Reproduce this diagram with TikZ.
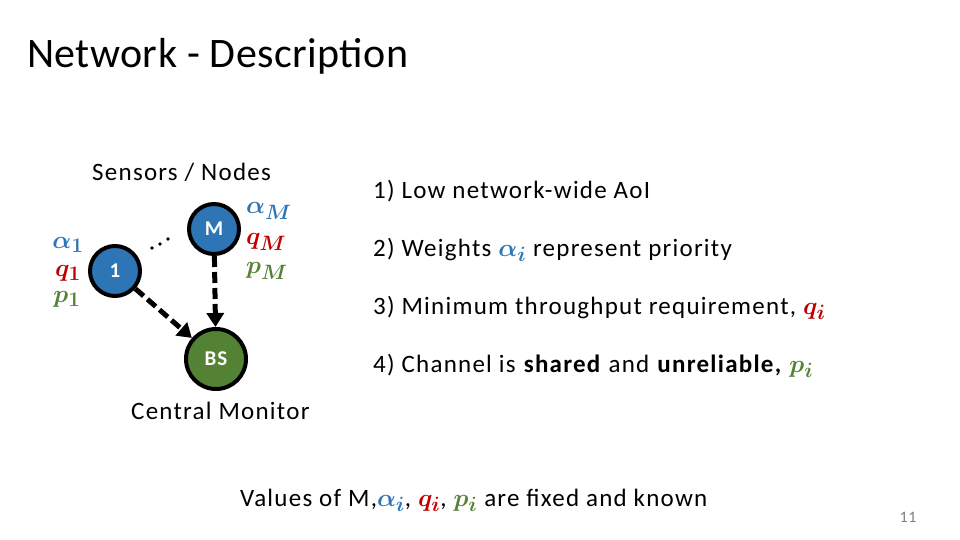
\documentclass[tikz,border=0pt]{standalone}
\usepackage{fontspec}
\usepackage{amsmath,bm}
\setmainfont{Carlito}[LetterSpace=5]
\newfontfamily\titlefont{Carlito}[LetterSpace=1]
\usetikzlibrary{arrows.meta}
\definecolor{oblue}{HTML}{2E75B6}
\definecolor{ored}{HTML}{C00000}
\definecolor{ogreen}{HTML}{548235}
\newcommand{\bigmath}[2]{\textcolor{#1}{\fontsize{29}{30}\selectfont$\bm{#2}$}}
\begin{document}
\begin{tikzpicture}[x=1pt,y=-1pt,
  sensor/.style={circle,draw=black,line width=4pt,fill=oblue,minimum size=50pt,inner sep=0pt,text=white,font=\fontsize{21}{24}\selectfont\bfseries},
  basest/.style={circle,draw=black,line width=4pt,fill=ogreen,minimum size=60pt,inner sep=0pt,text=white,font=\fontsize{21}{24}\selectfont\bfseries},
  link/.style={line width=5pt,dash pattern=on 11pt off 5pt,-{Triangle[length=14pt,width=17pt]}},
  txt/.style={anchor=base west,inner sep=0pt,font=\fontsize{25}{28}\selectfont},
  lbl/.style={inner sep=0pt,font=\fontsize{29}{30}\selectfont},
  dot/.style={circle,fill=black,inner sep=0pt,minimum size=3.6pt}]
\path[use as bounding box] (0,0) rectangle (960,540);
\node[anchor=base west,inner sep=0pt,font=\fontsize{42}{48}\titlefont] (title) at (27,68) {Network - Description};
\node[txt] (sens) at (92,181) {Sensors / Nodes};
\node[txt] (cm) at (131,419) {Central Monitor};
\node[sensor] (n1) at (115,271) {1};
\node[sensor] (nM) at (214,229) {M};
\node[basest] (bs) at (216,359) {BS};
\node[dot] (d1) at (152,248) {};
\node[dot] (d2) at (160,244) {};
\node[dot] (d3) at (168,239) {};
\draw[link] (n1) -- (bs);
\draw[link] (nM) -- (bs);
\node[lbl,text=oblue] (a1) at (68,245) {$\bm{\alpha_1}$};
\node[lbl,text=ored] (q1) at (68,273) {$\bm{q_1}$};
\node[lbl,text=ogreen] (p1) at (67,299) {$\bm{p_1}$};
\node[lbl,text=oblue,anchor=west] (aM) at (246,211) {$\bm{\alpha_M}$};
\node[lbl,text=ored,anchor=west] (qM) at (246,242) {$\bm{q_M}$};
\node[lbl,text=ogreen,anchor=west] (pM) at (246,271) {$\bm{p_M}$};
\node[txt] (l1) at (373,198) {1) Low network-wide AoI};
\node[txt] (l2) at (373,256) {2) Weights \bigmath{oblue}{\alpha_i} represent priority};
\node[txt] (l3) at (373,314) {3) Minimum throughput requirement, \bigmath{ored}{q_i}};
\node[txt] (l4) at (373,372) {4) Channel is \textbf{shared} and \textbf{unreliable,} \bigmath{ogreen}{p_i}};
\node[txt] (val) at (240,506) {Values of M,\bigmath{oblue}{\alpha_i}, \bigmath{ored}{q_i}, \bigmath{ogreen}{p_i} are fixed and known};
\node[anchor=base,inner sep=0pt,text=gray,font=\fontsize{16}{18}\selectfont] (pg) at (908,522) {11};
\end{tikzpicture}
\end{document}
